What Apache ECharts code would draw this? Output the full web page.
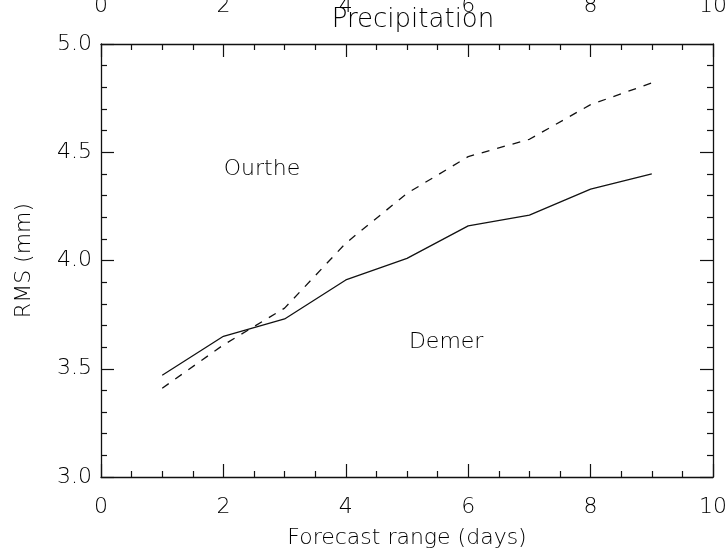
<!DOCTYPE html>
<html><head><meta charset="utf-8">
<script src="https://cdn.jsdelivr.net/npm/echarts@6/dist/echarts.min.js"></script>
<style>html,body{margin:0;padding:0;background:#fff}#c{width:728px;height:554px}</style>
</head><body><div id="c"></div>
<script>
const days = [1, 2, 3, 4, 5, 6, 7, 8, 9];
const demer = [3.47, 3.65, 3.73, 3.91, 4.01, 4.16, 4.21, 4.33, 4.40];
const ourthe = [3.41, 3.61, 3.78, 4.08, 4.31, 4.48, 4.56, 4.72, 4.82];
const riverLabels = ['Ourthe', 'Demer'];
const riverLabelX = [2.63, 5.64];
const riverLabelY = [4.42, 3.62];
const xTicks = [0, 2, 4, 6, 8, 10];
const yTicks = [3.0, 3.5, 4.0, 4.5, 5.0];

const FONT = 'DejaVu Sans';
const TXT = '#000';
const FW = 200;
const chart = echarts.init(document.getElementById('c'), null, {renderer: 'canvas'});
const axisCommon = {
  axisLine: {show: true, onZero: false, lineStyle: {color: '#111', width: 1.3}},
  axisTick: {show: true, inside: true, length: 13, lineStyle: {color: '#111', width: 1.2}},
  minorTick: {show: true, length: 6, lineStyle: {color: '#111', width: 1.2}},
  splitLine: {show: false}
};
chart.setOption({
  animation: false,
  backgroundColor: '#fff',
  title: {
    text: 'Precipitation', left: 408, top: 2, textAlign: 'center',
    textStyle: {fontFamily: FONT, fontWeight: FW, fontSize: 26, color: TXT}
  },
  grid: {left: 101, right: 15, top: 44, bottom: 77, containLabel: false, outerBoundsMode: 'none'},
  xAxis: [
    Object.assign({}, axisCommon, {
      type: 'value', min: xTicks[0], max: xTicks[xTicks.length - 1], interval: 2,
      minorTick: Object.assign({}, axisCommon.minorTick, {splitNumber: 4}),
      name: 'Forecast range (days)', nameLocation: 'middle', nameGap: 50,
      nameTextStyle: {fontFamily: FONT, fontWeight: FW, fontSize: 22, color: TXT},
      axisLabel: {margin: 19, fontFamily: FONT, fontWeight: FW, fontSize: 22, color: TXT,
        formatter: v => xTicks.includes(v) ? String(v) : ''}
    }),
    Object.assign({}, axisCommon, {
      type: 'value', position: 'top', min: xTicks[0], max: xTicks[xTicks.length - 1], interval: 2,
      minorTick: Object.assign({}, axisCommon.minorTick, {splitNumber: 4}),
      axisLabel: {margin: 27, fontFamily: FONT, fontWeight: FW, fontSize: 22, color: TXT,
        formatter: v => String(v)}
    })
  ],
  yAxis: [
    Object.assign({}, axisCommon, {
      type: 'value', min: yTicks[0], max: yTicks[yTicks.length - 1], interval: 0.5,
      minorTick: Object.assign({}, axisCommon.minorTick, {splitNumber: 5}),
      name: 'RMS (mm)', nameLocation: 'middle', nameGap: 66, nameRotate: 90,
      nameTextStyle: {fontFamily: FONT, fontWeight: FW, fontSize: 22, color: TXT},
      axisLabel: {margin: 9, fontFamily: FONT, fontWeight: FW, fontSize: 22, color: TXT,
        formatter: v => v.toFixed(1)}
    }),
    Object.assign({}, axisCommon, {
      type: 'value', position: 'right', min: yTicks[0], max: yTicks[yTicks.length - 1], interval: 0.5,
      minorTick: Object.assign({}, axisCommon.minorTick, {splitNumber: 5}),
      axisLabel: {show: false}
    })
  ],
  series: [
    {
      name: 'Demer', type: 'line', xAxisIndex: 0, yAxisIndex: 0,
      data: days.map((d, i) => [d, demer[i]]),
      symbol: 'none', lineStyle: {color: '#111', width: 1.3, type: 'solid'}
    },
    {
      name: 'Ourthe', type: 'line', xAxisIndex: 0, yAxisIndex: 0,
      data: days.map((d, i) => [d, ourthe[i]]),
      symbol: 'none', lineStyle: {color: '#111', width: 1.3, type: [8, 8]}
    },
    {
      name: 'labels', type: 'scatter', xAxisIndex: 0, yAxisIndex: 0,
      symbolSize: 0, silent: true, itemStyle: {opacity: 1},
      data: riverLabels.map((n, i) => ({name: n, value: [riverLabelX[i], riverLabelY[i]]})),
      label: {show: true, position: 'inside', formatter: p => p.name, opacity: 1,
        fontFamily: FONT, fontWeight: FW, fontSize: 22, color: TXT}
    }
  ]
});
</script></body></html>
